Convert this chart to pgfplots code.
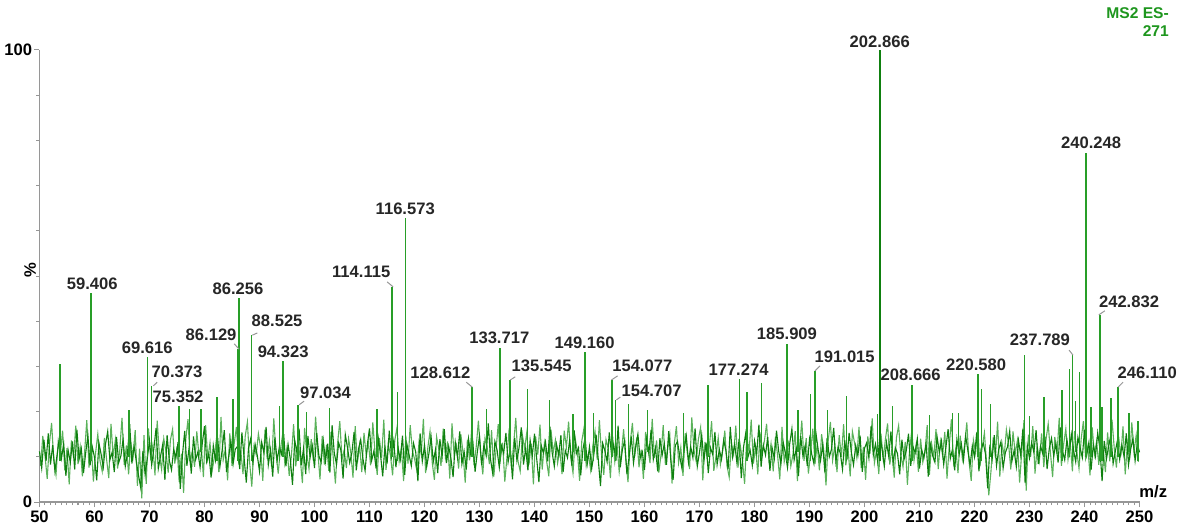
\documentclass[border=0pt]{standalone}
\usepackage{pgfplots}
\pgfplotsset{compat=1.18}
\usepackage{fontspec}
\setmainfont{Liberation Sans}
\definecolor{spec}{RGB}{15,128,15}
\definecolor{speclight}{RGB}{40,158,40}
\definecolor{noiselight}{RGB}{90,178,90}
\definecolor{axgray}{RGB}{150,150,150}
\definecolor{titlegreen}{RGB}{30,150,30}
\newcommand{\lf}{\bfseries\fontsize{8.3}{9}\selectfont}
\begin{document}
\begin{tikzpicture}
\useasboundingbox (-19.75pt,-11.5pt) rectangle (569.25pt,251pt);
\begin{axis}[
  scale only axis, width=550pt, height=226pt,
  xmin=50, xmax=250, ymin=0, ymax=100,
  axis x line*=bottom, axis y line*=left,
  axis line style={axgray, line width=0.6pt},
  tick style={axgray, line width=0.5pt},
  tick align=outside,
  xtick distance=10, minor x tick num=9,
  ytick={0,100}, minor ytick={10,20,30,40,50,60,70,80,90},
  major tick length=2.5pt, minor tick length=1.5pt,
  /pgf/number format/assume math mode=true,
  tick label style={font=\lf, black},
  xticklabel style={inner sep=1pt, yshift=-1pt},
  yticklabel style={inner sep=1pt},
  clip=false,
]
% noise baseline, light trace
\addplot[draw=noiselight, line width=0.55pt] coordinates {
(50.2,8.0) (50.6,14.6) (51.0,10.3) (51.4,5.1) (51.8,12.9) (52.2,17.5) (52.6,9.2) (53.0,6.0) (53.4,13.4) (53.8,10.8)
(54.2,15.8) (54.6,7.0) (55.0,11.9) (55.4,3.9) (55.8,13.6) (56.2,9.8) (56.6,16.9) (57.0,8.4) (57.4,12.2) (57.8,5.7)
(58.2,11.0) (58.6,18.1) (59.0,7.6) (59.4,13.0) (59.8,4.5) (60.2,10.9) (60.6,15.0) (61.0,9.1) (61.4,6.8) (61.8,14.2)
(62.2,9.4) (62.6,5.3) (63.0,17.3) (63.4,10.1) (63.8,13.8) (64.2,7.4) (64.6,11.6) (65.0,18.6) (65.4,8.2) (65.8,12.5)
(66.2,6.1) (66.6,13.2) (67.0,10.0) (67.4,15.9) (67.8,3.6) (68.2,11.8) (68.6,0.8) (69.0,14.8) (69.4,4.0) (69.8,16.3)
(70.2,9.9) (70.6,12.6) (71.0,5.9) (71.4,18.0) (71.8,10.4) (72.2,7.2) (72.6,14.0) (73.0,11.1) (73.4,6.5) (73.8,13.7)
(74.2,16.1) (74.6,8.5) (75.0,12.3) (75.4,4.4) (75.8,10.7) (76.2,2.0) (76.6,13.9) (77.0,18.3) (77.4,9.0) (77.8,11.4)
(78.2,7.8) (78.6,15.6) (79.0,10.2) (79.4,12.8) (79.8,5.5) (80.2,17.0) (80.6,9.6) (81.0,13.1) (81.4,7.0) (81.8,10.0)
(82.2,14.3) (82.6,6.6) (83.0,18.8) (83.4,9.3) (83.8,11.7) (84.2,4.8) (84.6,15.2) (85.0,8.0) (85.4,12.9) (85.8,16.6)
(86.2,9.0) (86.6,11.3) (87.0,6.2) (87.4,14.5) (87.8,17.7) (88.2,8.8) (88.6,3.4) (89.0,12.4) (89.4,10.5) (89.8,15.1)
(90.2,12.0) (90.6,4.7) (91.0,16.0) (91.4,9.5) (91.8,13.5) (92.2,7.7) (92.6,18.5) (93.0,10.8) (93.4,6.3) (93.8,11.6)
(94.2,14.9) (94.6,8.6) (95.0,12.1) (95.4,5.8) (95.8,10.2) (96.2,17.2) (96.6,7.9) (97.0,13.3) (97.4,9.7) (97.8,4.2)
(98.2,16.4) (98.6,10.6) (99.0,7.3) (99.4,13.9) (99.8,9.1) (100.2,18.9) (100.6,11.2) (101.0,5.0) (101.4,14.6) (101.8,8.3)
(102.2,12.7) (102.6,6.9) (103.0,15.5) (103.4,10.0) (103.8,4.1) (104.2,13.0) (104.6,17.9) (105.0,9.4) (105.4,11.5) (105.8,7.5)
(106.2,14.0) (106.6,10.9) (107.0,5.4) (107.4,16.8) (107.8,8.7) (108.2,12.6) (108.6,6.6) (109.0,15.3) (109.4,10.3) (109.8,13.1)
(110.2,8.1) (110.6,17.6) (111.0,11.0) (111.4,6.0) (111.8,14.1) (112.2,9.7) (112.6,18.2) (113.0,7.1) (113.4,12.8) (113.8,10.4)
(114.2,5.9) (114.6,13.6) (115.0,16.5) (115.4,9.0) (115.8,11.9) (116.2,4.6) (116.6,14.7) (117.0,8.5) (117.4,17.0) (117.8,11.3)
(118.2,9.5) (118.6,7.0) (119.0,13.2) (119.4,10.6) (119.8,18.4) (120.2,6.4) (120.6,12.0) (121.0,15.6) (121.4,8.8) (121.8,4.9)
(122.2,14.4) (122.6,11.7) (123.0,8.0) (123.4,16.2) (123.8,9.9) (124.2,13.4) (124.6,5.2) (125.0,17.4) (125.4,10.1) (125.8,12.5)
(126.2,7.4) (126.6,15.0) (127.0,11.0) (127.4,4.3) (127.8,13.8) (128.2,9.2) (128.6,16.7) (129.0,8.1) (129.4,12.2) (129.8,18.0)
(130.2,10.7) (130.6,6.1) (131.0,14.2) (131.4,12.0) (131.8,8.4) (132.2,15.9) (132.6,5.6) (133.0,11.4) (133.4,17.2) (133.8,9.6)
(134.2,13.1) (134.6,4.5) (135.0,10.0) (135.4,16.3) (135.8,7.6) (136.2,12.7) (136.6,18.6) (137.0,9.0) (137.4,6.8) (137.8,14.8)
(138.2,11.8) (138.6,15.4) (139.0,8.3) (139.4,12.9) (139.8,3.9) (140.2,14.5) (140.6,10.5) (141.0,17.1) (141.4,7.2) (141.8,13.0)
(142.2,9.1) (142.6,5.7) (143.0,16.0) (143.4,10.9) (143.8,13.7) (144.2,8.6) (144.6,11.5) (145.0,6.2) (145.4,15.8) (145.8,12.1)
(146.2,17.8) (146.6,9.8) (147.0,6.4) (147.4,14.1) (147.8,11.1) (148.2,4.7) (148.6,13.5) (149.0,16.4) (149.4,8.0) (149.8,10.6)
(150.2,7.1) (150.6,12.4) (151.0,15.7) (151.4,9.4) (151.8,18.1) (152.2,10.2) (152.6,6.0) (153.0,13.8) (153.4,11.9) (153.8,5.3)
(154.2,14.6) (154.6,8.9) (155.0,12.6) (155.4,6.7) (155.8,10.8) (156.2,16.1) (156.6,9.3) (157.0,4.4) (157.4,13.1) (157.8,17.5)
(158.2,10.0) (158.6,14.3) (159.0,7.7) (159.4,11.6) (159.8,5.1) (160.2,15.5) (160.6,12.3) (161.0,8.6) (161.4,18.4) (161.8,9.8)
(162.2,13.6) (162.6,6.5) (163.0,10.4) (163.4,17.0) (163.8,8.2) (164.2,11.8) (164.6,14.9) (165.0,4.1) (165.4,12.7) (165.8,16.8)
(166.2,8.7) (166.6,12.1) (167.0,5.8) (167.4,15.2) (167.8,10.6) (168.2,7.3) (168.6,18.7) (169.0,11.4) (169.4,9.0) (169.8,13.9)
(170.2,16.5) (170.6,4.8) (171.0,13.3) (171.4,9.7) (171.8,12.4) (172.2,17.9) (172.6,6.9) (173.0,10.1) (173.4,14.2) (173.8,8.3)
(174.2,11.2) (174.6,15.8) (175.0,8.0) (175.4,5.5) (175.8,13.0) (176.2,10.5) (176.6,16.9) (177.0,7.6) (177.4,12.6) (177.8,9.3)
(178.2,4.0) (178.6,14.7) (179.0,11.0) (179.4,18.2) (179.8,8.5) (180.2,12.2) (180.6,6.1) (181.0,15.4) (181.4,10.8) (181.8,13.5)
(182.2,17.3) (182.6,9.5) (183.0,12.9) (183.4,6.8) (183.8,14.4) (184.2,10.3) (184.6,5.0) (185.0,16.6) (185.4,8.9) (185.8,11.7)
(186.2,13.2) (186.6,7.9) (187.0,10.6) (187.4,15.7) (187.8,4.6) (188.2,12.0) (188.6,18.0) (189.0,9.1) (189.4,14.1) (189.8,6.3)
(190.2,10.9) (190.6,16.2) (191.0,8.4) (191.4,12.8) (191.8,7.0) (192.2,15.0) (192.6,11.3) (193.0,3.7) (193.4,13.6) (193.8,17.7)
(194.2,9.2) (194.6,12.5) (195.0,6.6) (195.4,14.8) (195.8,10.0) (196.2,17.2) (196.6,8.1) (197.0,11.9) (197.4,5.7) (197.8,15.6)
(198.2,13.0) (198.6,9.8) (199.0,16.6) (199.4,7.5) (199.8,12.2) (200.2,4.9) (200.6,14.5) (201.0,10.7) (201.4,18.5) (201.8,8.6)
(202.2,11.5) (202.6,6.2) (203.0,15.1) (203.4,9.6) (203.8,13.9) (204.2,17.4) (204.6,8.3) (205.0,12.0) (205.4,5.4) (205.8,14.2)
(206.2,16.9) (206.6,10.4) (207.0,7.8) (207.4,13.3) (207.8,3.8) (208.2,11.6) (208.6,15.8) (209.0,9.2) (209.4,12.7) (209.8,6.7)
(210.2,14.0) (210.6,8.8) (211.0,11.1) (211.4,17.0) (211.8,6.0) (212.2,12.9) (212.6,9.9) (213.0,16.1) (213.4,7.3) (213.8,13.4)
(214.2,10.3) (214.6,15.5) (215.0,5.2) (215.4,12.3) (215.8,18.3) (216.2,8.7) (216.6,11.8) (217.0,6.4) (217.4,14.7) (217.8,9.5)
(218.2,12.6) (218.6,17.6) (219.0,9.0) (219.4,4.7) (219.8,13.7) (220.2,10.9) (220.6,16.4) (221.0,7.9) (221.4,12.1) (221.8,15.3)
(222.2,8.4) (222.6,1.5) (223.0,6.9) (223.4,14.3) (223.8,9.8) (224.2,17.8) (224.6,5.6) (225.0,13.0) (225.4,10.2) (225.8,16.0)
(226.2,12.8) (226.6,7.2) (227.0,15.6) (227.4,10.7) (227.8,13.6) (228.2,4.3) (228.6,11.3) (229.0,18.1) (229.4,2.5) (229.8,14.9)
(230.2,10.0) (230.6,16.8) (231.0,6.3) (231.4,12.4) (231.8,9.1) (232.2,15.2) (232.6,7.7) (233.0,13.8) (233.4,17.3) (233.8,11.0)
(234.2,5.5) (234.6,14.4) (235.0,10.6) (235.4,18.6) (235.8,8.0) (236.2,12.7) (236.6,16.2) (237.0,9.4) (237.4,13.1) (237.8,6.8)
(238.2,15.7) (238.6,11.2) (239.0,7.4) (239.4,14.0) (239.8,17.9) (240.2,9.7) (240.6,12.3) (241.0,5.9) (241.4,16.5) (241.8,10.5)
(242.2,13.4) (242.6,8.2) (243.0,17.1) (243.4,11.6) (243.8,6.6) (244.2,15.4) (244.6,9.0) (245.0,18.2) (245.4,12.0) (245.8,7.6)
(246.2,14.5) (246.6,10.1) (247.0,16.7) (247.4,6.1) (247.8,12.9) (248.2,9.3) (248.6,17.6) (249.0,11.1) (249.4,14.8) (249.8,8.9)
};
% noise baseline, dark trace
\addplot[draw=spec, line width=0.55pt] coordinates {
(50.0,11.2) (50.4,7.5) (50.8,13.8) (51.2,9.1) (51.6,15.2) (52.0,8.3) (52.4,12.6) (52.8,6.9) (53.2,10.4) (53.6,14.1)
(54.0,9.7) (54.4,12.9) (54.8,5.8) (55.2,11.5) (55.6,8.8) (56.0,13.4) (56.4,7.2) (56.8,16.0) (57.2,9.5) (57.6,11.8)
(58.0,6.4) (58.4,10.9) (58.8,14.7) (59.2,8.1) (59.6,12.2) (60.0,9.9) (60.4,4.8) (60.8,13.1) (61.2,10.6) (61.6,7.7)
(62.0,12.8) (62.4,15.6) (62.8,9.3) (63.2,11.0) (63.6,6.6) (64.0,14.4) (64.4,8.7) (64.8,10.2) (65.2,13.9) (65.6,7.9)
(66.0,10.8) (66.4,17.2) (66.8,8.5) (67.2,12.4) (67.6,9.0) (68.0,5.9) (68.4,3.2) (68.8,11.3) (69.2,6.1) (69.6,9.6)
(70.0,13.6) (70.4,8.2) (70.8,11.9) (71.2,16.4) (71.6,7.4) (72.0,10.1) (72.4,12.7) (72.8,4.9) (73.2,14.8) (73.6,9.2)
(74.0,7.1) (74.4,11.6) (74.8,9.8) (75.2,13.3) (75.6,2.9) (76.0,10.5) (76.4,15.7) (76.8,8.0) (77.2,12.0) (77.6,6.3)
(78.0,14.5) (78.4,9.4) (78.8,11.1) (79.2,7.6) (79.6,13.0) (80.0,16.8) (80.4,8.9) (80.8,10.7) (81.2,5.4) (81.6,12.5)
(82.0,9.3) (82.4,14.2) (82.8,7.8) (83.2,11.4) (83.6,15.9) (84.0,6.7) (84.4,10.0) (84.8,13.5) (85.2,8.4) (85.6,11.7)
(86.0,12.3) (86.4,7.3) (86.8,15.4) (87.2,9.8) (87.6,4.3) (88.0,11.9) (88.4,14.0) (88.8,8.6) (89.2,12.8) (89.6,10.3)
(90.0,6.8) (90.4,13.2) (90.8,10.9) (91.2,16.6) (91.6,8.2) (92.0,11.5) (92.4,5.6) (92.8,14.3) (93.2,9.1) (93.6,12.1)
(94.0,10.6) (94.4,15.0) (94.8,7.9) (95.2,12.7) (95.6,9.5) (96.0,3.8) (96.4,13.7) (96.8,11.0) (97.2,16.2) (97.6,8.1)
(98.0,11.8) (98.4,6.2) (98.8,14.6) (99.2,9.9) (99.6,12.4) (100.0,7.5) (100.4,15.3) (100.8,10.2) (101.2,8.8) (101.6,13.6)
(102.0,9.0) (102.4,12.9) (102.8,6.5) (103.2,17.0) (103.6,10.8) (104.0,8.3) (104.4,13.1) (104.8,11.4) (105.2,5.2) (105.6,14.9)
(106.0,12.0) (106.4,8.7) (106.8,10.9) (107.2,15.5) (107.6,7.0) (108.0,11.7) (108.4,13.8) (108.8,9.6) (109.2,6.9) (109.6,12.6)
(110.0,16.3) (110.4,9.2) (110.8,11.3) (111.2,7.4) (111.6,14.1) (112.0,10.5) (112.4,5.7) (112.8,12.2) (113.2,8.5) (113.6,15.8)
(114.0,10.1) (114.4,13.5) (114.8,7.7) (115.2,11.9) (115.6,9.4) (116.0,14.7) (116.4,6.0) (116.8,12.8) (117.2,10.4) (117.6,8.0)
(118.0,13.0) (118.4,11.1) (118.8,4.6) (119.2,15.2) (119.6,9.0) (120.0,12.5) (120.4,7.8) (120.8,10.7) (121.2,14.4) (121.6,8.9)
(122.0,11.6) (122.4,6.4) (122.8,13.9) (123.2,10.0) (123.6,16.1) (124.0,8.6) (124.4,12.3) (124.8,9.7) (125.2,5.5) (125.6,13.2)
(126.0,9.9) (126.4,15.6) (126.8,8.4) (127.2,11.2) (127.6,7.2) (128.0,14.0) (128.4,10.6) (128.8,12.9) (129.2,6.7) (129.6,11.0)
(130.0,14.6) (130.4,8.1) (130.8,12.7) (131.2,10.3) (131.6,17.4) (132.0,9.5) (132.4,6.3) (132.8,13.4) (133.2,11.5) (133.6,7.6)
(134.0,12.4) (134.4,10.8) (134.8,15.3) (135.2,8.8) (135.6,11.7) (136.0,5.0) (136.4,14.2) (136.8,9.2) (137.2,12.1) (137.6,16.5)
(138.0,8.3) (138.4,11.9) (138.8,7.0) (139.2,13.7) (139.6,10.2) (140.0,15.1) (140.4,9.6) (140.8,4.4) (141.2,12.6) (141.6,10.9)
(142.0,13.3) (142.4,9.0) (142.8,16.7) (143.2,11.0) (143.6,7.9) (144.0,12.8) (144.4,10.4) (144.8,14.8) (145.2,6.6) (145.6,11.4)
(146.0,9.8) (146.4,13.8) (146.8,8.0) (147.2,15.9) (147.6,10.7) (148.0,12.0) (148.4,5.9) (148.8,11.6) (149.2,14.3) (149.6,8.5)
(150.0,12.2) (150.4,7.4) (150.8,10.6) (151.2,14.9) (151.6,9.3) (152.0,3.5) (152.4,13.0) (152.8,11.3) (153.2,8.9) (153.6,15.4)
(154.0,10.5) (154.4,12.7) (154.8,9.1) (155.2,16.9) (155.6,7.7) (156.0,11.8) (156.4,13.6) (156.8,6.2) (157.2,10.0) (157.6,14.5)
(158.0,8.6) (158.4,12.3) (158.8,15.0) (159.2,9.7) (159.6,11.1) (160.0,7.1) (160.4,13.9) (160.8,10.8) (161.2,16.0) (161.6,9.4)
(162.0,11.9) (162.4,6.8) (162.8,14.1) (163.2,10.3) (163.6,12.9) (164.0,8.2) (164.4,15.7) (164.8,9.0) (165.2,4.9) (165.6,12.5)
(166.0,13.4) (166.4,10.1) (166.8,7.5) (167.2,11.7) (167.6,14.6) (168.0,8.8) (168.4,12.2) (168.8,9.8) (169.2,16.3) (169.6,7.9)
(170.0,11.0) (170.4,14.8) (170.8,9.2) (171.2,13.1) (171.6,6.4) (172.0,12.0) (172.4,10.5) (172.8,15.5) (173.2,8.3) (173.6,11.6)
(174.0,9.5) (174.4,13.7) (174.8,11.4) (175.2,7.3) (175.6,16.6) (176.0,10.0) (176.4,12.8) (176.8,8.7) (177.2,14.0) (177.6,5.3)
(178.0,12.1) (178.4,15.2) (178.8,9.9) (179.2,11.5) (179.6,8.1) (180.0,13.5) (180.4,10.7) (180.8,17.1) (181.2,7.8) (181.6,12.6)
(182.0,10.4) (182.4,14.4) (182.8,6.9) (183.2,12.0) (183.6,9.6) (184.0,15.8) (184.4,11.2) (184.8,8.4) (185.2,13.3) (185.6,10.9)
(186.0,7.6) (186.4,12.9) (186.8,16.2) (187.2,9.3) (187.6,11.8) (188.0,5.8) (188.4,14.6) (188.8,10.2) (189.2,12.4) (189.6,8.0)
(190.0,13.9) (190.4,10.6) (190.8,8.5) (191.2,15.0) (191.6,11.3) (192.0,9.1) (192.4,12.7) (192.8,6.5) (193.2,14.2) (193.6,10.0)
(194.0,11.7) (194.4,16.4) (194.8,8.9) (195.2,12.2) (195.6,10.8) (196.0,7.2) (196.4,13.6) (196.8,9.4) (197.2,15.3) (197.6,11.1)
(198.0,8.2) (198.4,12.5) (198.8,10.3) (199.2,14.7) (199.6,6.7) (200.0,11.9) (200.4,13.1) (200.8,9.7) (201.2,16.8) (201.6,10.4)
(202.0,12.8) (202.4,9.0) (202.8,14.9) (203.2,11.6) (203.6,7.9) (204.0,13.2) (204.4,10.1) (204.8,15.6) (205.2,8.6) (205.6,12.0)
(206.0,10.7) (206.4,6.1) (206.8,13.8) (207.2,9.5) (207.6,11.4) (208.0,15.1) (208.4,8.0) (208.8,12.3) (209.2,10.9) (209.6,14.0)
(210.0,7.4) (210.4,11.5) (210.8,9.8) (211.2,13.0) (211.6,5.6) (212.0,12.6) (212.4,10.2) (212.8,8.8) (213.2,14.4) (213.6,11.0)
(214.0,13.5) (214.4,8.3) (214.8,12.1) (215.2,16.1) (215.6,9.6) (216.0,11.7) (216.4,7.0) (216.8,13.9) (217.2,10.5) (217.6,12.9)
(218.0,9.2) (218.4,14.6) (218.8,11.3) (219.2,8.1) (219.6,12.4) (220.0,10.0) (220.4,15.4) (220.8,6.8) (221.2,11.8) (221.6,13.0)
(222.0,10.6) (222.4,3.0) (222.8,12.7) (223.2,9.4) (223.6,14.8) (224.0,8.0) (224.4,11.6) (224.8,13.3) (225.2,7.5) (225.6,10.9)
(226.0,12.2) (226.4,15.7) (226.8,9.0) (227.2,11.4) (227.6,7.8) (228.0,13.6) (228.4,10.3) (228.8,16.2) (229.2,4.2) (229.6,12.5)
(230.0,9.7) (230.4,13.1) (230.8,11.0) (231.2,15.9) (231.6,8.4) (232.0,12.3) (232.4,10.8) (232.8,14.5) (233.2,7.3) (233.6,11.9)
(234.0,14.1) (234.4,10.2) (234.8,12.9) (235.2,8.7) (235.6,16.5) (236.0,11.3) (236.4,9.3) (236.8,13.8) (237.2,10.6) (237.6,15.0)
(238.0,11.5) (238.4,8.9) (238.8,14.3) (239.2,12.0) (239.6,9.8) (240.0,16.0) (240.4,10.4) (240.8,13.2) (241.2,7.1) (241.6,12.7)
(242.0,10.1) (242.4,15.3) (242.8,11.8) (243.2,4.6) (243.6,13.5) (244.0,9.6) (244.4,12.4) (244.8,14.9) (245.2,8.5) (245.6,11.2)
(246.0,13.7) (246.4,9.4) (246.8,12.6) (247.2,10.0) (247.6,15.2) (248.0,8.2) (248.4,11.7) (248.8,14.0) (249.2,9.1) (249.6,12.9)
(250.0,11.0)
};
% unlabelled spikes (each from the noise level up to its top)
\addplot[draw=speclight, line width=0.75pt, unbounded coords=jump] coordinates {
(53.7,9) (53.7,30.5) (53.8,nan) (66.3,10) (66.3,20.4) (66.4,nan) (77.3,9) (77.3,20.6) (77.4,nan)
(79.4,11) (79.4,20.6) (79.5,nan) (82.3,9) (82.3,23.2) (82.4,nan) (85.2,10) (85.2,22.8) (85.3,nan)
(93.6,9) (93.6,21.2) (93.7,nan) (98.5,11) (98.5,20) (98.6,nan) (102.7,9) (102.7,20.8) (102.8,nan)
(111.4,10) (111.4,20.6) (111.5,nan) (115.1,9) (115.1,24.3) (115.2,nan) (131.3,10) (131.3,20.6) (131.4,nan)
(138.7,9) (138.7,25) (138.8,nan) (142.7,10) (142.7,22.6) (142.8,nan) (147,11) (147,19.5) (147.1,nan)
(150.7,9) (150.7,19.7) (150.8,nan) (157.1,10) (157.1,21.7) (157.2,nan) (160.5,11) (160.5,20.4) (160.6,nan)
(167.1,9) (167.1,19.7) (167.2,nan) (171.5,10) (171.5,25.9) (171.6,nan) (178.6,9) (178.6,24.3) (178.7,nan)
(181.3,10) (181.3,26.3) (181.4,nan) (187.9,11) (187.9,20.4) (188.0,nan) (190.2,9) (190.2,24) (190.3,nan)
(193.3,10) (193.3,20.4) (193.4,nan) (196.7,9) (196.7,23.5) (196.8,nan) (202.4,11) (202.4,19.5) (202.5,nan)
(205.1,10) (205.1,21.2) (205.2,nan) (211.8,9) (211.8,19.3) (211.9,nan) (216,10) (216,19.7) (216.1,nan)
(217.1,11) (217.1,19.7) (217.2,nan) (221.3,9) (221.3,25) (221.4,nan) (222.9,10) (222.9,21.7) (223.0,nan)
(229.1,9) (229.1,32.5) (229.2,nan) (230,11) (230,19) (230.1,nan) (232.6,10) (232.6,23.2) (232.7,nan)
(235.9,9) (235.9,24.8) (236.0,nan) (237.3,10) (237.3,29.4) (237.4,nan) (238.4,11) (238.4,22.3) (238.5,nan)
(239.1,9) (239.1,28.8) (239.2,nan) (241.2,10) (241.2,21) (241.3,nan) (243.2,9) (243.2,21) (243.3,nan)
(244.8,10) (244.8,23) (244.9,nan) (248.1,11) (248.1,19.8) (248.2,nan) (249.7,9) (249.7,17.9)
};
% labelled peaks
\addplot[draw=speclight, line width=0.8pt, unbounded coords=jump] coordinates {
(59.406,9) (59.406,46.2) (59.5,nan) (69.616,10) (69.616,32) (69.7,nan) (70.373,9) (70.373,25.7) (70.5,nan)
(75.352,10) (75.352,21.2) (75.4,nan) (86.129,9) (86.129,33.8) (86.2,nan) (86.256,10) (86.256,45.1) (86.3,nan)
(88.525,9) (88.525,36.9) (88.6,nan) (94.323,10) (94.323,31.2) (94.4,nan) (97.034,9) (97.034,21.5) (97.1,nan)
(114.115,10) (114.115,47.6) (114.2,nan) (116.573,9) (116.573,62.9) (116.6,nan) (128.612,10) (128.612,25.4) (128.7,nan)
(133.717,9) (133.717,34.1) (133.8,nan) (135.545,10) (135.545,27) (135.6,nan) (149.160,9) (149.160,33.2) (149.2,nan)
(154.077,10) (154.077,27) (154.1,nan) (154.707,9) (154.707,22.6) (154.8,nan) (177.274,10) (177.274,27.2) (177.3,nan)
(185.909,9) (185.909,35) (186.0,nan) (191.015,10) (191.015,29) (191.1,nan) (208.666,9) (208.666,25.9) (208.7,nan)
(220.580,10) (220.580,28.3) (220.6,nan) (237.789,9) (237.789,32.5) (237.8,nan) (240.248,10) (240.248,77.3) (240.3,nan)
(242.832,9) (242.832,41.4) (242.9,nan) (246.110,10) (246.110,25.4)
};
\addplot[draw=spec, line width=0.8pt] coordinates {(202.866,9) (202.866,100)};
% leader lines
\begin{scope}[axgray, line width=0.5pt]
\draw (axis cs:85.4,35.0) -- (axis cs:86.3,33.8);
\draw (axis cs:89.6,37.4) -- (axis cs:88.7,36.9);
\draw (axis cs:71.4,26.5) -- (axis cs:70.7,25.7);
\draw (axis cs:113.2,48.7) -- (axis cs:114.3,47.6);
\draw (axis cs:127.6,26.5) -- (axis cs:128.7,25.4);
\draw (axis cs:136.5,27.7) -- (axis cs:135.6,27.0);
\draw (axis cs:155.1,27.9) -- (axis cs:154.0,27.0);
\draw (axis cs:155.6,23.2) -- (axis cs:154.9,22.6);
\draw (axis cs:191.9,30.1) -- (axis cs:191.0,29.0);
\draw (axis cs:237.2,33.6) -- (axis cs:237.9,32.5);
\draw (axis cs:243.7,42.3) -- (axis cs:242.6,41.4);
\draw (axis cs:247.0,26.5) -- (axis cs:246.1,25.4);
\draw (axis cs:98.1,22.3) -- (axis cs:97.2,21.5);
\end{scope}
% peak labels
\begin{scope}[every node/.style={font=\lf, inner sep=0pt, text=black!85}]
\node at (axis cs:202.77,101.8) {202.866};
\node at (axis cs:241.2,79.4) {240.248};
\node at (axis cs:116.5,64.8) {116.573};
\node at (axis cs:108.5,50.9) {114.115};
\node at (axis cs:122.9,28.5) {128.612};
\node at (axis cs:133.6,36.3) {133.717};
\node at (axis cs:141.3,30.1) {135.545};
\node at (axis cs:149.1,35.2) {149.160};
\node at (axis cs:159.6,30.1) {154.077};
\node at (axis cs:161.3,24.6) {154.707};
\node at (axis cs:177.1,29.2) {177.274};
\node at (axis cs:185.9,37.2) {185.909};
\node at (axis cs:196.4,32.1) {191.015};
\node at (axis cs:208.4,28.1) {208.666};
\node at (axis cs:220.3,30.3) {220.580};
\node at (axis cs:231.9,35.8) {237.789};
\node at (axis cs:248.1,44.2) {242.832};
\node at (axis cs:251.4,28.5) {246.110};
\node at (axis cs:59.6,48.2) {59.406};
\node at (axis cs:69.6,34.1) {69.616};
\node at (axis cs:75.0,28.8) {70.373};
\node at (axis cs:75.2,23.2) {75.352};
\node at (axis cs:86.1,47.1) {86.256};
\node at (axis cs:81.2,36.9) {86.129};
\node at (axis cs:93.2,40.0) {88.525};
\node at (axis cs:94.3,33.2) {94.323};
\node at (axis cs:102.0,24.1) {97.034};
\end{scope}
\node[font=\lf, rotate=90, inner sep=0pt] at (axis cs:48.3,51.3) {\%};
\node[font=\lf, inner sep=0pt] at (axis cs:252.5,2.4) {m/z};
\node[font=\bfseries\fontsize{7.8}{9}\selectfont, text=titlegreen, align=right, anchor=north east, inner sep=0pt]
  at (axis cs:255.4,109.5) {MS2 ES-\\271};
\end{axis}
\end{tikzpicture}
\end{document}
